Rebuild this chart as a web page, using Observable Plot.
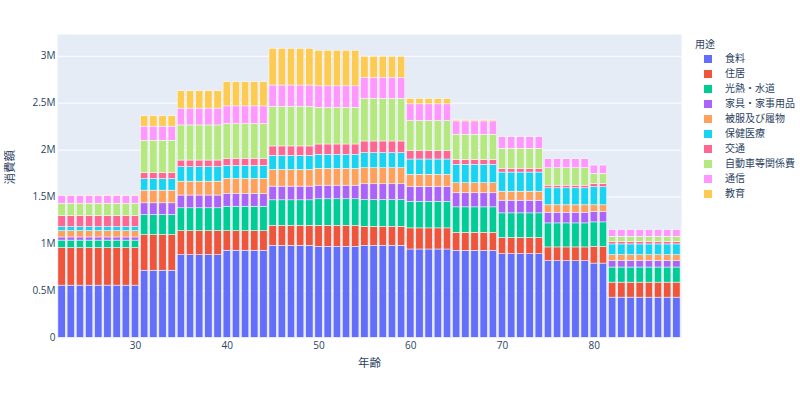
<!DOCTYPE html>
<html>
<head>
<meta charset="utf-8">
<script src="https://cdn.jsdelivr.net/npm/d3@7"></script>
<script src="https://cdn.jsdelivr.net/npm/@observablehq/plot@0.6"></script>
<style>
  html, body { margin: 0; padding: 0; background: #fff; }
  #wrap { position: relative; width: 800px; height: 394px; font-family: "Open Sans", "Noto Sans CJK JP", sans-serif; }
  #legend { position: absolute; left: 695px; top: 38px; color: #2a3f5f; font-size: 10px; white-space: nowrap; }
  #legend .title { height: 13px; line-height: 13px; }
  #legend .item { height: 15px; line-height: 15px; display: flex; align-items: center; }
  #legend .sw { width: 8px; height: 8px; margin-left: 9px; margin-right: 13px; flex: none; }
</style>
</head>
<body>
<div id="wrap"><div id="legend"></div></div>
<script>
// age bands (each age within a band shares the same values)
const bandStart = [22, 31, 35, 40, 45, 50, 55, 60, 65, 70, 75, 80, 82];
const bandEnd   = [30, 34, 39, 44, 49, 54, 59, 64, 69, 74, 79, 81, 89];

const categories = ["食料", "住居", "光熱・水道", "家具・家事用品", "被服及び履物", "保健医療", "交通", "自動車等関係費", "通信", "教育"];
const colors = ["#636efa", "#EF553B", "#00cc96", "#ab63fa", "#FFA15A", "#19d3f3", "#FF6692", "#B6E880", "#FF97FF", "#FECB52"];

// values per band (yen)
const food      = [556000, 715000, 880000, 928000, 980000, 969000, 980000, 941000, 926000, 891000, 816000, 791000, 428000];
const housing   = [400000, 380000, 257000, 209000, 214000, 225000, 203000, 225000, 193000, 174000, 147000, 178000, 160000];
const utilities = [ 80000, 213000, 243000, 260000, 271000, 282000, 285000, 284000, 271000, 261000, 256000, 261000, 161000];
const furniture = [ 33000, 125000, 136000, 136000, 146000, 145000, 168000, 158000, 150000, 135000, 114000, 113000,  70000];
const clothing  = [ 67000, 135000, 148000, 160000, 178000, 179000, 171000, 128000, 107000,  96000,  79000,  69000,  61000];
const health    = [ 43000, 122000, 154000, 139000, 150000, 150000, 161000, 164000, 196000, 204000, 181000, 192000, 115000];
const transport = [117000,  64000,  71000,  75000, 100000, 110000, 124000,  90000,  53000,  39000,  28000,  36000,  27000];
const car       = [133000, 346000, 374000, 371000, 421000, 389000, 453000, 320000, 268000, 214000, 186000, 107000,  54000];
const comm      = [ 82000, 150000, 179000, 188000, 228000, 231000, 225000, 178000, 142000, 125000, 100000,  88000,  72000];
const education = [  4000, 110000, 185000, 257000, 390000, 379000, 225000,  55000,  11000,   3000,   1000,      0,      0];

const yTicks = [0, 500000, 1000000, 1500000, 2000000, 2500000, 3000000];
const xTicks = [30, 40, 50, 60, 70, 80];

const series = [food, housing, utilities, furniture, clothing, health, transport, car, comm, education];

const rows = [];
categories.forEach((cat, ci) => {
  bandStart.forEach((s, bi) => {
    for (let age = s; age <= bandEnd[bi]; age++) {
      rows.push({age, category: cat, value: series[ci][bi]});
    }
  });
});

const font = '"Open Sans", "Noto Sans CJK JP", sans-serif';

const chart = Plot.plot({
  width: 800,
  height: 394,
  marginLeft: 57,
  marginRight: 119,
  marginTop: 34,
  marginBottom: 56.7,
  style: {fontFamily: font, fontSize: "10px", color: "#2a3f5f", background: "transparent"},
  x: {type: "linear", domain: [21.5, 89.5]},
  y: {domain: [0, 3232000]},
  color: {domain: categories, range: colors},
  marks: [
    Plot.frame({fill: "#E5ECF6", stroke: null}),
    Plot.gridY(yTicks, {stroke: "#fff", strokeOpacity: 1, strokeWidth: 1}),
    Plot.rectY(rows, {
      x1: d => d.age - 0.4,
      x2: d => d.age + 0.4,
      y: "value",
      fill: "category",
      stroke: "#fff",
      strokeWidth: 0.5,
      order: categories
    }),
    Plot.axisX(xTicks, {tickSize: 0, tickPadding: 4, label: null, fill: "#2a3f5f", fontSize: 10}),
    Plot.axisY(yTicks, {tickSize: 0, tickPadding: 2, label: null, fill: "#2a3f5f", fontSize: 10,
      tickFormat: d => d === 0 ? "0" : (d / 1e6) + "M"}),
    Plot.text(["年齢"], {frameAnchor: "bottom", dy: 29.5, fontSize: 11.5, fill: "#2a3f5f"}),
    Plot.text(["消費額"], {frameAnchor: "left", dx: -47, dy: -1.7, rotate: -90, fontSize: 11.5, fill: "#2a3f5f"})
  ]
});

const wrap = document.getElementById("wrap");
wrap.insertBefore(chart, wrap.firstChild);

const legend = document.getElementById("legend");
const t = document.createElement("div");
t.className = "title";
t.textContent = "用途";
legend.appendChild(t);
categories.forEach((c, i) => {
  const it = document.createElement("div");
  it.className = "item";
  const sw = document.createElement("span");
  sw.className = "sw";
  sw.style.background = colors[i];
  const tx = document.createElement("span");
  tx.textContent = c;
  it.appendChild(sw);
  it.appendChild(tx);
  legend.appendChild(it);
});
</script>
</body>
</html>
